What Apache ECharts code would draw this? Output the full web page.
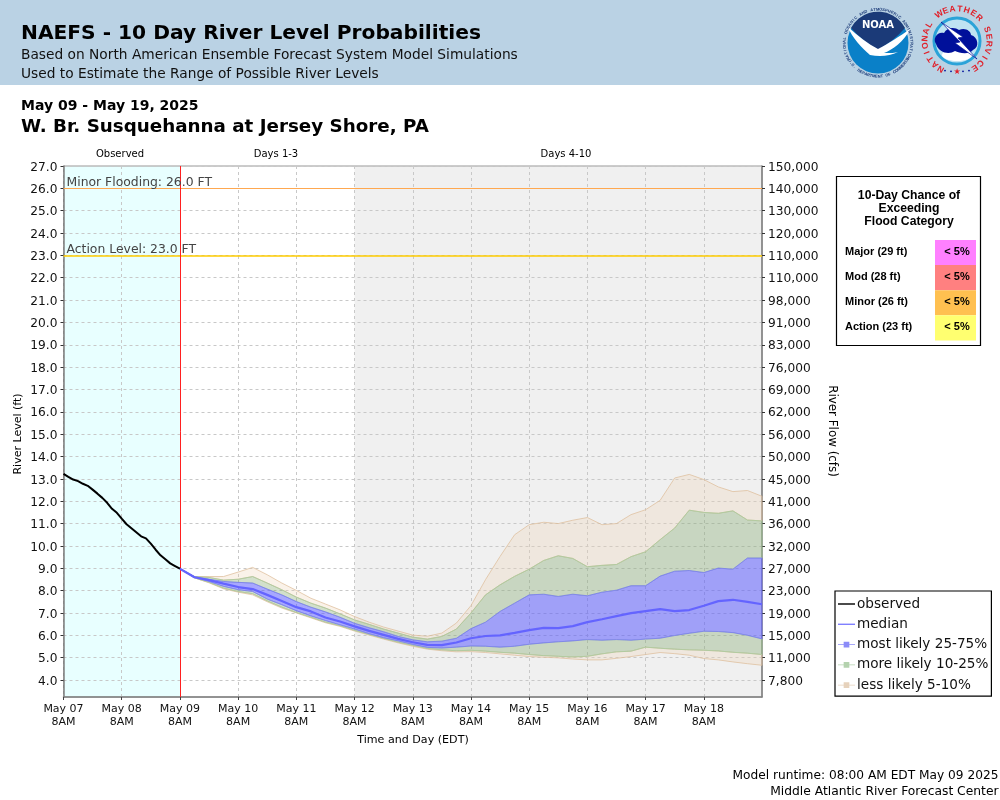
<!DOCTYPE html>
<html><head><meta charset="utf-8">
<style>html,body{margin:0;padding:0;background:#fff}#c{width:1000px;height:800px}</style>
<script src="https://cdn.jsdelivr.net/npm/echarts@6/dist/echarts.min.js"></script>
</head><body><div id="c"></div>
<script>
const dayTicks = ['May 07','May 08','May 09','May 10','May 11','May 12','May 13','May 14','May 15','May 16','May 17','May 18'];
const stageTicks = [4,5,6,7,8,9,10,11,12,13,14,15,16,17,18,19,20,21,22,23,24,25,26,27];
const flowLabels = ['7,800','11,000','15,000','19,000','23,000','27,000','32,000','36,000','41,000','45,000','50,000','56,000','62,000','69,000','76,000','83,000','91,000','98,000','110,000','110,000','120,000','130,000','140,000','150,000'];
const obsHours = [0,2,4,6,8,10,12,14,16,18,20,22,24,26,28,30,32,34,36,38,40,42,44,46,48];
const observed = [13.22,13.09,12.97,12.9,12.78,12.69,12.52,12.34,12.15,11.93,11.66,11.48,11.22,10.97,10.79,10.61,10.43,10.34,10.1,9.83,9.58,9.4,9.22,9.1,8.98];
const fcstHours = [48,54,60,66,72,78,84,90,96,102,108,114,120,126,132,138,144,150,156,162,168,174,180,186,192,198,204,210,216,222,228,234,240,246,252,258,264,270,276,282,288];
const p95 = [8.98,8.63,8.63,8.63,8.83,9.04,8.71,8.34,8.01,7.66,7.4,7.14,6.84,6.59,6.37,6.19,6.01,5.96,6.1,6.55,7.33,8.49,9.53,10.5,10.95,11.06,11.0,11.15,11.27,10.95,11.0,11.4,11.62,12.04,13.04,13.2,12.97,12.64,12.43,12.48,12.22];
const p90 = [8.98,8.63,8.59,8.47,8.51,8.63,8.34,8.04,7.71,7.44,7.22,6.96,6.69,6.49,6.28,6.1,5.92,5.83,5.95,6.28,7.0,7.81,8.26,8.64,8.96,9.35,9.56,9.44,9.07,9.13,9.17,9.52,9.74,10.28,10.8,11.6,11.5,11.46,11.57,11.16,11.12];
const p75 = [8.98,8.62,8.51,8.41,8.37,8.34,8.07,7.81,7.51,7.26,7.05,6.81,6.54,6.34,6.16,5.95,5.8,5.71,5.74,5.87,6.3,6.59,7.07,7.44,7.81,7.84,7.74,7.84,7.77,7.93,8.02,8.22,8.22,8.65,8.87,8.9,8.81,9.01,8.96,9.46,9.46];
const median = [8.98,8.6,8.47,8.31,8.16,8.07,7.81,7.54,7.26,7.07,6.8,6.62,6.4,6.2,6.02,5.84,5.69,5.57,5.56,5.68,5.87,5.97,6.0,6.11,6.23,6.33,6.32,6.41,6.59,6.72,6.86,6.99,7.08,7.17,7.08,7.13,7.32,7.53,7.59,7.5,7.39];
const p25 = [8.98,8.59,8.41,8.19,8.04,7.96,7.62,7.37,7.1,6.87,6.66,6.47,6.28,6.07,5.89,5.75,5.59,5.46,5.43,5.47,5.52,5.51,5.47,5.51,5.6,5.66,5.71,5.75,5.81,5.78,5.81,5.78,5.83,5.87,5.99,6.09,6.18,6.17,6.12,6.0,5.84];
const p10 = [8.98,8.57,8.37,8.11,7.96,7.86,7.54,7.26,7.02,6.81,6.59,6.43,6.22,6.04,5.86,5.69,5.55,5.41,5.35,5.31,5.33,5.29,5.24,5.2,5.14,5.09,5.06,5.03,5.06,5.17,5.26,5.29,5.47,5.42,5.38,5.35,5.33,5.3,5.24,5.2,5.14];
const p5 = [8.98,8.57,8.35,8.08,7.93,7.81,7.5,7.22,7.0,6.78,6.56,6.4,6.19,6.01,5.83,5.66,5.51,5.38,5.31,5.26,5.27,5.23,5.17,5.11,5.05,5.02,4.99,4.94,4.9,4.9,4.97,5.05,5.14,5.23,5.18,5.11,4.96,4.9,4.81,4.73,4.66];
const floodCategories = ['Major (29 ft)','Mod (28 ft)','Minor (26 ft)','Action (23 ft)'];
const floodChances = ['< 5%','< 5%','< 5%','< 5%'];
const floodColors = ['#FF80FF','#FF8080','#FFC050','#FFFF70'];

const SANS = '"DejaVu Sans"', ARIAL = '"Liberation Sans"';
const chart = echarts.init(document.getElementById('c'), null, {renderer:'canvas', width:1000, height:800});

function band(name, pairs, fill, stroke){
  return {
    name, type:'custom', z:3, xAxisIndex:0, yAxisIndex:0, silent:true,
    data: fcstHours.map((h,i)=>[h,pairs[0][0][i],pairs[0][1][i]]),
    encode:{x:0,y:[1,2]},
    renderItem(params, api){
      if(params.dataIndex!==0) return null;
      return {type:'group', children: pairs.map(([hi,lo])=>{
        const up = fcstHours.map((h,i)=>api.coord([h,hi[i]]));
        const dn = fcstHours.map((h,i)=>api.coord([h,lo[i]])).reverse();
        return {type:'polygon', shape:{points:up.concat(dn)}, style:{fill, stroke, lineWidth:1}};
      })};
    }
  };
}
const legendIconBox = 'path://M0 6.5H24V7.5H0Z M8 3H16V11H8Z';
const legendIconLine = 'path://M0 6H24V8H0Z';

const els = [];
const txt = (s,x,y,font,o={}) => els.push({type:'text',silent:true,rotation:o.rot||0,x,y,style:{text:s,x:0,y:0,font,fill:o.fill||'#000',align:o.align||'left',verticalAlign:'middle'}});
let pathId=0;
const pth=(d,style)=>{const n='logoPath'+(pathId++);echarts.graphic.registerShape(n,echarts.graphic.extendPath(d,{}));els.push({type:n,silent:true,style});};
// header
els.push({type:'rect',shape:{x:0,y:0,width:1000,height:85},style:{fill:'#BAD2E4'}});
txt('NAEFS - 10 Day River Level Probabilities',21,34,`bold 20.2px ${SANS}`);
txt('Based on North American Ensemble Forecast System Model Simulations',21,55.5,`13.75px ${SANS}`,{fill:'#111'});
txt('Used to Estimate the Range of Possible River Levels',21,74.5,`13.75px ${SANS}`,{fill:'#111'});
txt('May 09 - May 19, 2025',21,106,`bold 14px ${SANS}`);
txt('W. Br. Susquehanna at Jersey Shore, PA',21,127,`bold 18.3px ${SANS}`);
txt('Observed',120,154,`10px ${SANS}`,{align:'center'});
txt('Days 1-3',276,154,`10px ${SANS}`,{align:'center'});
txt('Days 4-10',566,154,`10px ${SANS}`,{align:'center'});
txt('Model runtime: 08:00 AM EDT May 09 2025',998.5,775.5,`12.2px ${SANS}`,{align:'right'});
txt('Middle Atlantic River Forecast Center',998.5,791.5,`12.3px ${SANS}`,{align:'right'});
// logos
const arcText=(s,cx,cy,r,start,step,font,fill,flip)=>{[...s].forEach((ch,i)=>{
  if(ch===' ')return; const a=(start+i*step)*Math.PI/180;
  els.push({type:'text',silent:true,x:cx+r*Math.sin(a),y:cy-r*Math.cos(a),rotation:flip?Math.PI-a:-a,style:{text:ch,x:0,y:0,font,fill,align:'center',verticalAlign:'middle'}});
});};
els.push({type:'circle',shape:{cx:878,cy:43,r:30.5},style:{fill:'#0A80C8'}});
pth('M851 28 A30.5 30.5 0 0 1 905 28 C897 37 888 44 878 50 C868 44 859 37 851 28 Z',{fill:'#1B3A78'});
pth('M848 27 C858 36 868 44 878 49 C888 44 900 36 910 29 C904 42 892 50 884 53 C891 53 895 53 898 52 C890 56 880 57 870 55 C862 48 852 38 848 27 Z',{fill:'#fff'});
txt('NOAA',878,25,`bold 10px ${SANS}`,{align:'center',fill:'#fff'});
arcText('NATIONAL OCEANIC AND ATMOSPHERIC ADMINISTRATION',878,43,33.5,-118,5.1,`bold 4px ${ARIAL}`,'#1B3A78');
arcText('U.S. DEPARTMENT OF COMMERCE',878,43,33.5,238,-4.6,`bold 4px ${ARIAL}`,'#1B3A78',true);
els.push({type:'circle',shape:{cx:957,cy:41,r:23},style:{fill:'#BFE3F2',stroke:'#2BA3D8',lineWidth:3}});
els.push({type:'ellipse',shape:{cx:957,cy:55,rx:15,ry:6},style:{fill:'#fff'}});
pth('M936 44 C932 38 938 31 944 33 C947 27 955 27 959 30 C965 27 971 31 971 35 C978 37 980 47 973 50 C969 55 959 53 955 51 C949 55 939 53 936 44 Z',{fill:'#00109A'});
pth('M941 22 L963 37 L958 38 L977 59 L955 43 L960 42 Z',{fill:'#fff',stroke:'#00109A',lineWidth:0.7});
arcText('NATIONAL WEATHER SERVICE',957,41,32,-150,12.9,`bold 8.5px ${ARIAL}`,'#E0202A');
txt('\u2605',957,72,`8px ${SANS}`,{align:'center',fill:'#E0202A'});
[-12,-6,6,12].forEach(d=>els.push({type:'circle',shape:{cx:957+d,cy:72-Math.abs(d)*0.12,r:0.9},style:{fill:'#00109A'}}));
// axis titles
txt('River Level (ft)',18,434,`11px ${SANS}`,{align:'center',rot:Math.PI/2});
txt('River Flow (cfs)',832,431,`11.9px ${SANS}`,{align:'center',rot:-Math.PI/2});
txt('Time and Day (EDT)',413,740,`11.1px ${SANS}`,{align:'center'});
// flood table
els.push({type:'rect',shape:{x:836.5,y:176.5,width:144,height:169},style:{fill:'#fff',stroke:'#000',lineWidth:1.2}});
['10-Day Chance of','Exceeding','Flood Category'].forEach((s,i)=>txt(s,909,196+i*13,`bold 12.2px ${ARIAL}`,{align:'center'}));
floodCategories.forEach((s,i)=>{
  const y=240+i*25.1;
  els.push({type:'rect',shape:{x:935,y,width:41,height:25.1},style:{fill:floodColors[i]}});
  txt(s,845,y+12,`bold 11px ${ARIAL}`);
  txt(floodChances[i],957,y+12,`bold 11px ${ARIAL}`,{align:'center'});
});
const tickRich = {t:{fontSize:12.2,fontFamily:SANS,color:'#111',padding:[3,0,0,0]}};

chart.setOption({
  animation:false,
  textStyle:{fontFamily:SANS},
  graphic:{elements:els},
  grid:{left:63.5,right:238,top:166,bottom:103,containLabel:false,show:true,borderColor:'#999',borderWidth:1,backgroundColor:'transparent'},
  xAxis:{type:'value',min:0,max:288,interval:24,
    axisLine:{show:true,onZero:false,lineStyle:{color:'#808080',width:1.5}},
    axisTick:{show:true,length:3,lineStyle:{color:'#444'}},
    axisLabel:{fontSize:11,color:'#111',lineHeight:13,margin:6,showMaxLabel:false,
      formatter:v=>{const d=dayTicks[v/24];return d?d+'\n8AM':'';}},
    splitLine:{show:true,lineStyle:{color:'#C8C8C8',type:[3,3],width:1}}},
  yAxis:[
    {type:'value',min:3.24,max:27,position:'left',
      axisLine:{show:true,onZero:false,lineStyle:{color:'#808080',width:1.5}},
      axisTick:{show:true,length:3,customValues:stageTicks,lineStyle:{color:'#333'}},
      axisLabel:{margin:6,customValues:stageTicks,rich:tickRich,formatter:v=>`{t|${v.toFixed(1)}}`},
      splitLine:{show:true,lineStyle:{color:'#C8C8C8',type:[3,3],width:1}}},
    {type:'value',min:3.24,max:27,position:'right',
      axisLine:{show:true,onZero:false,lineStyle:{color:'#808080',width:1.5}},
      axisTick:{show:true,length:3,customValues:stageTicks,lineStyle:{color:'#333'}},
      axisLabel:{margin:6,customValues:stageTicks,rich:tickRich,formatter:v=>`{t|${flowLabels[stageTicks.indexOf(Math.round(v))]||''}}`},
      splitLine:{show:false}}
  ],
  legend:{show:true,orient:'vertical',left:835,top:591,padding:[6,3,4,3],itemGap:6.3,itemWidth:17,itemHeight:14,selectedMode:false,
    backgroundColor:'#fff',borderColor:'#000',borderWidth:1.2,
    textStyle:{fontSize:13.6,color:'#111',padding:[0,0,0,-3]},
    data:[
      {name:'observed',icon:legendIconLine,itemStyle:{color:'#000'}},
      {name:'median',icon:legendIconLine,itemStyle:{color:'#8080FF'}},
      {name:'most likely 25-75%',icon:legendIconBox,itemStyle:{color:'#8C8CF8'}},
      {name:'more likely 10-25%',icon:legendIconBox,itemStyle:{color:'#B4D2AE'}},
      {name:'less likely 5-10%',icon:legendIconBox,itemStyle:{color:'#E6D2BC'}}
    ]},
  series:[
    {name:'regions',type:'line',z:-1,data:[],silent:true,
      markArea:{silent:true,z:-1,data:[
        [{xAxis:0,itemStyle:{color:'#E8FFFF'}},{xAxis:48}],
        [{xAxis:120,itemStyle:{color:'#F0F0F0'}},{xAxis:288}]
      ]}},
    band('less likely 5-10%',[[p95,p90],[p10,p5]],'rgba(237,213,183,0.30)','rgba(222,190,155,0.75)'),
    band('more likely 10-25%',[[p90,p75],[p25,p10]],'rgba(126,166,106,0.35)','rgba(170,205,160,0.8)'),
    band('most likely 25-75%',[[p75,p25]],'rgba(80,80,255,0.50)','rgba(120,120,250,0.7)'),
    {name:'median',type:'line',z:5,showSymbol:false,silent:true,
      data:fcstHours.map((h,i)=>[h,median[i]]),lineStyle:{color:'#6464FF',width:2.2}},
    {name:'observed',type:'line',z:6,showSymbol:false,silent:true,
      data:obsHours.map((h,i)=>[h,observed[i]]),lineStyle:{color:'#000',width:2},
      markLine:{silent:true,symbol:'none',animation:false,
        data:[
          {yAxis:26,lineStyle:{color:'#FFA850',width:1.2,type:'solid'},label:{show:true,formatter:'Minor Flooding: 26.0 FT',position:'insideStartTop',fontSize:12.4,color:'#444',distance:[3,0]}},
          {yAxis:23,lineStyle:{color:'#FFCC00',width:1.6,type:'solid'},label:{show:true,formatter:'Action Level: 23.0 FT',position:'insideStartTop',fontSize:12.4,color:'#444',distance:[3,0]}},
          {xAxis:48,lineStyle:{color:'#FF2020',width:1,type:'solid'},label:{show:false}}
        ]}}
  ]
});
</script></body></html>
